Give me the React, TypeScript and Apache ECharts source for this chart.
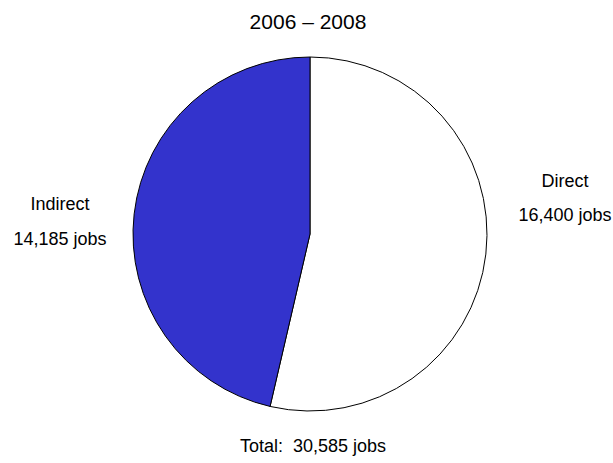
import React, { useEffect, useRef } from "react";
import * as echarts from "echarts";

const categories = ["Direct", "Indirect"];
const jobs = [16400, 14185];
const colors = ["#FFFFFF", "#3333CC"];
const title = "2006 – 2008";

const fmt = (n: number) => n.toLocaleString("en-US");

export default function App() {
  const ref = useRef<HTMLDivElement>(null);
  useEffect(() => {
    if (!ref.current) return;
    const chart = echarts.init(ref.current, undefined, { renderer: "svg" });
    const total = jobs.reduce((a, b) => a + b, 0);
    const font = "Liberation Sans, Arial, sans-serif";
    const txt = (x: number, y: number, text: string, size = 18) => ({
      type: "text",
      x,
      y,
      style: { text, font: `${size}px ${font}`, fill: "#000", textAlign: "center", textVerticalAlign: "middle" },
    });
    chart.setOption({
      animation: false,
      backgroundColor: "#FFFFFF",
      series: [
        {
          type: "pie",
          center: [310, 234],
          radius: [0, 177],
          startAngle: 90,
          clockwise: true,
          label: { show: false },
          labelLine: { show: false },
          emphasis: { disabled: true },
          itemStyle: { borderColor: "#000", borderWidth: 1 },
          data: categories.map((c, i) => ({
            name: c,
            value: jobs[i],
            itemStyle: { color: colors[i] },
          })),
        },
      ],
      graphic: [
        txt(308, 21, title, 21),
        txt(565, 181, categories[0]),
        txt(565, 215, `${fmt(jobs[0])} jobs`),
        txt(60, 204, categories[1]),
        txt(60, 239, `${fmt(jobs[1])} jobs`),
        txt(313, 446, `Total:  ${fmt(total)} jobs`),
      ],
    });
    return () => chart.dispose();
  }, []);
  return <div ref={ref} style={{ position: "fixed", left: 0, top: 0, width: 613, height: 463 }} />;
}
